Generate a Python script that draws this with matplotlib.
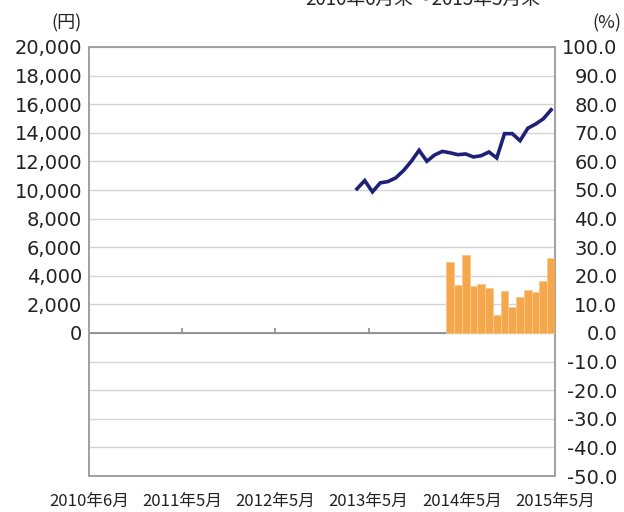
import matplotlib
matplotlib.use('Agg')
import matplotlib.pyplot as plt
import matplotlib.ticker as mticker
import pandas as pd

plt.rcParams['font.family'] = ['Noto Sans CJK JP', 'DejaVu Sans']

# Monthly axis, 2010-06 .. 2015-05
months = pd.period_range('2010-06', '2015-05', freq='M')
tick_labels = ['2010年6月', '2011年5月', '2012年5月', '2013年5月', '2014年5月', '2015年5月']

# Price (yen), 2013-04 .. 2015-05
line_start = '2013-04'
line_values = [10080, 10660, 9870, 10500, 10590, 10850, 11360, 12010, 12780, 12010,
               12450, 12700, 12600, 12470, 12520, 12310, 12400, 12660, 12240, 13940,
               13940, 13450, 14320, 14610, 14980, 15610]

# Ratio (%), 2014-04 .. 2015-05
bar_start = '2014-04'
bar_values = [25.0, 16.8, 27.2, 16.5, 17.3, 15.7, 6.4, 14.7, 9.2, 12.7, 15.1, 14.4, 18.1, 26.1]

i0 = list(months).index(pd.Period(line_start, 'M'))
line_x = [i0 + k + 0.5 for k in range(len(line_values))]
j0 = list(months).index(pd.Period(bar_start, 'M'))
bar_x = [j0 + k + 0.5 for k in range(len(bar_values))]

fig = plt.figure(figsize=(6.24, 5.12), dpi=100)
ax = fig.add_axes([89 / 624, 1 - 476 / 512, 466 / 624, 429 / 512])
ax2 = ax.twinx()

# grid (drawn on the yen axis so the line sits above it)
ax.set_ylim(-10000, 20000)
ax.set_yticks(range(-10000, 20001, 2000))
ax.yaxis.set_major_formatter(mticker.FuncFormatter(lambda v, p: f'{int(v):,}' if v >= 0 else ''))
ax.grid(axis='y', color='#d4d4d4', lw=1)
ax.set_axisbelow(True)
ax.axhline(0, color='#8c8c8c', lw=1.3, zorder=2)
ax.vlines([12, 24, 36, 48], 0, 380, color='#8c8c8c', lw=1.2, zorder=2)

ax.plot(line_x, line_values, color='#1f2176', lw=2.6, zorder=4, solid_joinstyle='miter')

ax2.bar(bar_x, bar_values, width=1.0, color='#f5a74b', edgecolor='#f8c98e', lw=0.6, zorder=3)
ax2.set_ylim(-50, 100)
ax2.set_yticks(range(-50, 101, 10))
ax2.yaxis.set_major_formatter(mticker.FuncFormatter(lambda v, p: f'{v:.1f}'))

ax.set_xlim(0, 60)
ax.set_xticks([0, 12, 24, 36, 48, 60])
ax.set_xticklabels(tick_labels, fontsize=12,
                   family=['Liberation Sans Narrow', 'Noto Sans CJK JP', 'DejaVu Sans'])

for a in (ax, ax2):
    for s in a.spines.values():
        s.set_color('#a0a0a0')
        s.set_linewidth(1.2)
    a.tick_params(length=0, colors='#222222')
ax.tick_params(axis='y', labelsize=14, pad=5)
ax.tick_params(axis='x', pad=12)
ax2.tick_params(axis='y', labelsize=14, pad=45)
for t in ax.get_yticklabels():
    t.set_family('DejaVu Sans')
for t in ax2.get_yticklabels():
    t.set_family('DejaVu Sans')
    t.set_horizontalalignment('right')

fig.text(82 / 624, 1 - 23 / 512, '(円)', ha='right', va='center', fontsize=13, color='#222222')
fig.text(621 / 624, 1 - 23 / 512, '(%)', ha='right', va='center', fontsize=13, color='#222222')
fig.text(423 / 624, 1 + 1 / 512, '2010年6月末～2015年5月末', ha='center', va='center',
         fontsize=13.5, color='#222222')

fig.savefig('out.png', dpi=100)
plt.close(fig)
